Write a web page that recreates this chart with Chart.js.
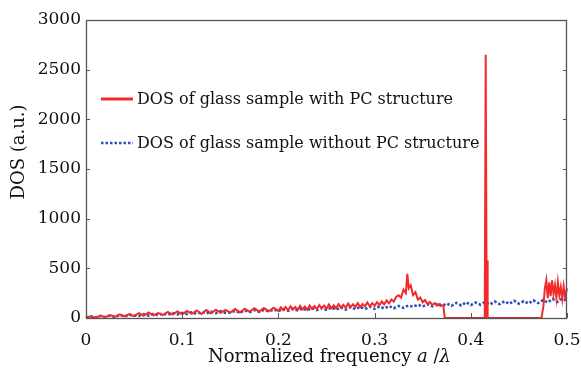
<!DOCTYPE html>
<html>
<head>
<meta charset="utf-8">
<script src="https://cdn.jsdelivr.net/npm/chart.js@4.4.1/dist/chart.umd.min.js"></script>
<style>
  html, body { margin: 0; padding: 0; background: #fff; }
  #wrap { width: 581px; height: 370px; }
</style>
</head>
<body>
<div id="wrap"><canvas id="dosChart" width="581" height="370"></canvas></div>
<script>
// DOS spectrum, sample with photonic-crystal structure (red)
const freqWith = [
  0.000, 0.005, 0.010, 0.015, 0.020, 0.025, 0.030, 0.035, 0.040, 0.045,
  0.050, 0.055, 0.060, 0.065, 0.070, 0.075, 0.080, 0.085, 0.090, 0.095,
  0.100, 0.105, 0.110, 0.115, 0.120, 0.125, 0.130, 0.135, 0.140, 0.145,
  0.150, 0.155, 0.160, 0.165, 0.170, 0.175, 0.180, 0.185, 0.190, 0.195,
  0.200, 0.2025, 0.205, 0.2075, 0.210, 0.2125, 0.215, 0.2175, 0.220, 0.2225,
  0.225, 0.2275, 0.230, 0.2325, 0.235, 0.2375, 0.240, 0.2425, 0.245, 0.2475,
  0.250, 0.2525, 0.255, 0.2575, 0.260, 0.2625, 0.265, 0.2675, 0.270, 0.2725,
  0.275, 0.2775, 0.280, 0.2825, 0.285, 0.2875, 0.290, 0.2925, 0.295, 0.2975,
  0.300, 0.3025, 0.305, 0.3075, 0.310, 0.3125, 0.315, 0.3175, 0.320, 0.3225,
  0.325, 0.3275, 0.330, 0.3325, 0.334, 0.3355, 0.3375, 0.340, 0.3425, 0.345,
  0.3475, 0.350, 0.3525, 0.355, 0.3575, 0.360, 0.3625, 0.365, 0.3675, 0.370,
  0.3715, 0.373, 0.4145, 0.4155, 0.4165, 0.4170, 0.4175, 0.4735, 0.4755, 0.4770,
  0.4785, 0.4800, 0.4815, 0.4830, 0.4845, 0.4860, 0.4875, 0.4890, 0.4905, 0.4920,
  0.4935, 0.4950, 0.4965, 0.4980, 0.5000
];
const dosWith = [
  2, 18, 4, 25, 8, 30, 12, 36, 15, 40,
  18, 48, 22, 55, 26, 50, 30, 62, 34, 66,
  38, 70, 42, 76, 40, 80, 48, 84, 52, 82,
  55, 90, 56, 94, 62, 98, 64, 100, 68, 104,
  72, 108, 80, 112, 76, 118, 84, 110, 82, 122,
  88, 116, 84, 126, 92, 120, 90, 130, 96, 124,
  94, 136, 100, 128, 98, 140, 104, 132, 102, 146,
  108, 138, 112, 150, 110, 142, 118, 156, 116, 150,
  122, 160, 130, 166, 138, 176, 148, 186, 165, 215,
  230, 205, 285, 250, 445, 300, 330, 230, 260, 185,
  205, 160, 180, 140, 162, 130, 150, 124, 142, 128,
  118, 0, 0, 2650, 0, 580, 0, 0, 120, 300,
  380, 200, 360, 220, 380, 240, 330, 200, 360, 230,
  310, 190, 320, 210, 300
];

// DOS spectrum, sample without the structure (blue dotted)
const freqWithout = [
  0.000, 0.005, 0.010, 0.015, 0.020, 0.025, 0.030, 0.035, 0.040, 0.045,
  0.050, 0.055, 0.060, 0.065, 0.070, 0.075, 0.080, 0.085, 0.090, 0.095,
  0.100, 0.105, 0.110, 0.115, 0.120, 0.125, 0.130, 0.135, 0.140, 0.145,
  0.150, 0.155, 0.160, 0.165, 0.170, 0.175, 0.180, 0.185, 0.190, 0.195,
  0.200, 0.205, 0.210, 0.215, 0.220, 0.225, 0.230, 0.235, 0.240, 0.245,
  0.250, 0.255, 0.260, 0.265, 0.270, 0.275, 0.280, 0.285, 0.290, 0.295,
  0.300, 0.305, 0.310, 0.315, 0.320, 0.325, 0.330, 0.335, 0.340, 0.345,
  0.350, 0.355, 0.360, 0.365, 0.370, 0.375, 0.380, 0.385, 0.390, 0.395,
  0.400, 0.405, 0.410, 0.415, 0.420, 0.425, 0.430, 0.435, 0.440, 0.445,
  0.450, 0.455, 0.460, 0.465, 0.470, 0.475, 0.480, 0.485, 0.490, 0.495,
  0.500
];
const dosWithout = [
  4, 15, 6, 20, 9, 24, 12, 28, 16, 32,
  26, 20, 38, 24, 42, 28, 46, 32, 50, 36,
  52, 38, 58, 42, 60, 46, 64, 50, 68, 52,
  56, 72, 54, 76, 60, 80, 62, 82, 66, 86,
  70, 90, 72, 94, 76, 96, 78, 100, 80, 102,
  82, 106, 84, 108, 86, 110, 88, 112, 90, 114,
  92, 116, 96, 120, 98, 122, 102, 126, 114, 134,
  116, 138, 118, 140, 120, 146, 122, 152, 126, 158,
  130, 156, 134, 162, 136, 166, 140, 168, 142, 174,
  144, 170, 146, 178, 150, 180, 156, 192, 162, 198,
  170
];

const seriesLabels = [
  'DOS of glass sample with PC structure',
  'DOS of glass sample without PC structure'
];
const yRange = [0, 3000];
const xRange = [0, 0.5];

const serif = '"DejaVu Serif", "Liberation Serif", serif';

function toPoints(xs, ys) {
  return xs.map((f, i) => ({ x: f, y: ys[i] }));
}

// frame, inward ticks, legend and axis titles
const decorPlugin = {
  id: 'decor',
  afterDraw(chart) {
    const { ctx, chartArea: a, scales } = chart;
    ctx.save();
    ctx.strokeStyle = '#555';
    ctx.lineWidth = 1.3;
    ctx.strokeRect(a.left + 0.5, a.top + 0.5, a.width - 1, a.height);

    ctx.lineWidth = 1;
    ctx.beginPath();
    scales.x.ticks.forEach(t => {
      const px = Math.round(scales.x.getPixelForValue(t.value)) + 0.5;
      ctx.moveTo(px, a.bottom);
      ctx.lineTo(px, a.bottom - 5);
    });
    scales.y.ticks.forEach(t => {
      const py = Math.round(scales.y.getPixelForValue(t.value)) + 0.5;
      ctx.moveTo(a.left, py);
      ctx.lineTo(a.left + 4, py);
      ctx.moveTo(a.right, py);
      ctx.lineTo(a.right - 4, py);
    });
    ctx.stroke();

    // legend inside the plot
    const lx = a.left + 15;
    const rows = [a.top + 79, a.top + 123];
    ctx.font = '16px ' + serif;
    ctx.textBaseline = 'middle';
    ctx.fillStyle = '#111';
    chart.data.datasets.forEach((ds, i) => {
      ctx.save();
      ctx.strokeStyle = ds.borderColor;
      ctx.lineWidth = i === 0 ? 3 : 2.5;
      ctx.setLineDash(ds.borderDash || []);
      ctx.beginPath();
      ctx.moveTo(lx, rows[i]);
      ctx.lineTo(lx + 32, rows[i]);
      ctx.stroke();
      ctx.restore();
      ctx.fillText(ds.label, lx + 36, rows[i] + 1);
    });

    // x title with italic symbols
    const parts = [
      ['Normalized frequency ', ''],
      ['a', 'italic '],
      [' /', ''],
      ['λ', 'italic ']
    ];
    ctx.textBaseline = 'alphabetic';
    let total = 0;
    parts.forEach(p => { ctx.font = p[1] + '18px ' + serif; total += ctx.measureText(p[0]).width; });
    let tx = (a.left + a.right) / 2 - total / 2 + 3;
    parts.forEach(p => {
      ctx.font = p[1] + '18px ' + serif;
      ctx.fillText(p[0], tx, 362);
      tx += ctx.measureText(p[0]).width;
    });

    // y title
    ctx.save();
    ctx.translate(24, a.top + 132);
    ctx.rotate(-Math.PI / 2);
    ctx.font = '18px ' + serif;
    ctx.textAlign = 'center';
    ctx.fillText('DOS (a.u.)', 0, 0);
    ctx.restore();

    ctx.restore();
  }
};

new Chart(document.getElementById('dosChart'), {
  type: 'line',
  data: {
    datasets: [
      {
        label: seriesLabels[0],
        data: toPoints(freqWith, dosWith),
        borderColor: '#f22a2a',
        borderWidth: 2,
        pointRadius: 0,
        tension: 0,
        clip: 3,
        order: 1
      },
      {
        label: seriesLabels[1],
        data: toPoints(freqWithout, dosWithout),
        borderColor: '#2f50b4',
        borderWidth: 2.6,
        borderDash: [2.5, 2],
        pointRadius: 0,
        tension: 0,
        clip: 3,
        order: 2
      }
    ]
  },
  options: {
    responsive: false,
    animation: false,
    layout: { padding: { top: 20, right: 14, left: 0, bottom: 0 } },
    plugins: {
      legend: { display: false },
      tooltip: { enabled: false }
    },
    scales: {
      x: {
        type: 'linear',
        min: xRange[0],
        max: xRange[1],
        grid: { display: false, drawTicks: false },
        border: { display: false },
        ticks: {
          stepSize: 0.1,
          padding: 12,
          color: '#111',
          font: { family: serif, size: 17 },
          callback: v => (v === 0 ? '0' : v.toFixed(1))
        },
        afterFit: s => { s.height = 52; s.paddingLeft = 0; s.paddingRight = 0; }
      },
      y: {
        min: yRange[0],
        max: yRange[1],
        grid: { display: false, drawTicks: false },
        border: { display: false },
        ticks: {
          stepSize: 500,
          padding: 5,
          color: '#111',
          font: { family: serif, size: 17 },
          callback: v => String(v)
        },
        afterFit: s => { s.width = 86; s.paddingTop = 0; s.paddingBottom = 0; }
      }
    }
  },
  plugins: [decorPlugin]
});
</script>
</body>
</html>
